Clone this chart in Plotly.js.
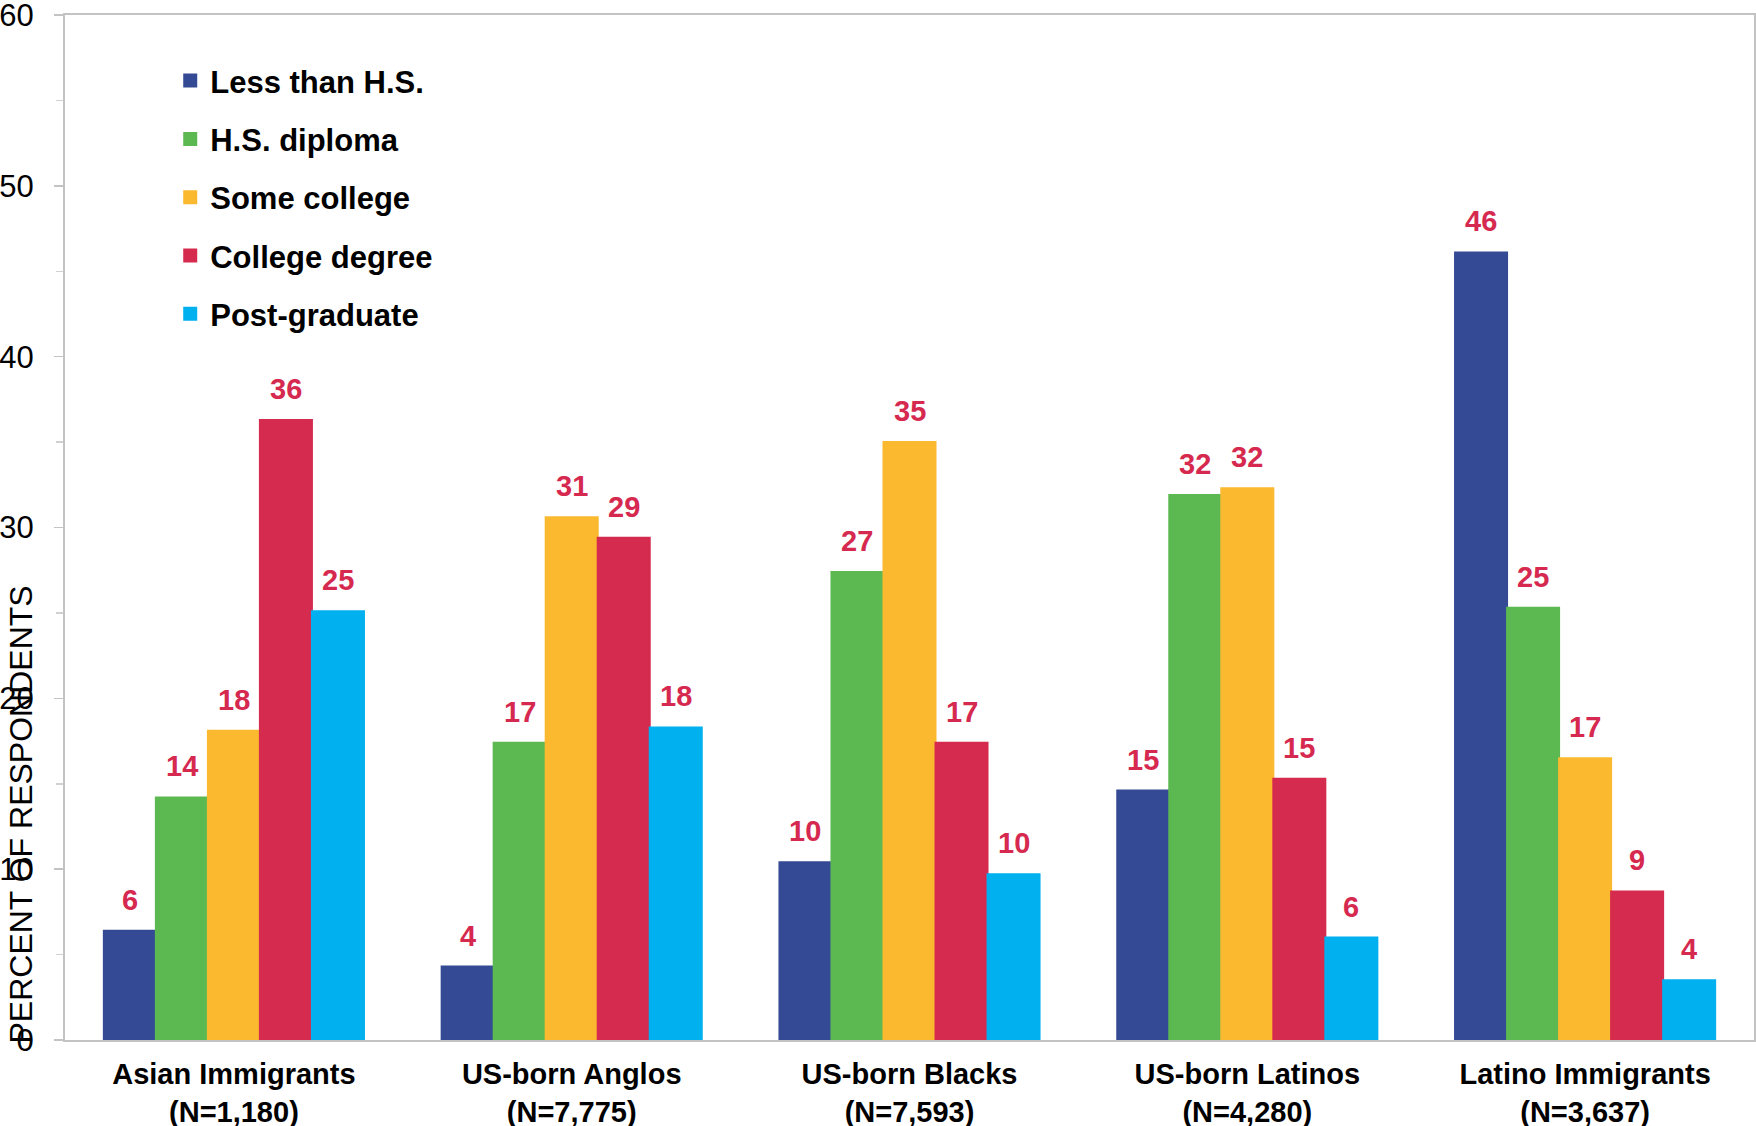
<!DOCTYPE html>
<html>
<head>
<meta charset="utf-8">
<script src="https://cdn.plot.ly/plotly-3.0.1.min.js"></script>
<style>html,body{margin:0;padding:0;background:#fff;}#chart{width:1756px;height:1126px;}</style>
</head>
<body>
<div id="chart"></div>
<script>
const categories = ['Asian Immigrants','US-born Anglos','US-born Blacks','US-born Latinos','Latino Immigrants'];
const sampleSizes = ['(N=1,180)','(N=7,775)','(N=7,593)','(N=4,280)','(N=3,637)'];
const seriesNames = ['Less than H.S.','H.S. diploma','Some college','College degree','Post-graduate'];
const lessThanHS    = [6.4, 4.3, 10.4, 14.6, 46.1];
const hsDiploma     = [14.2, 17.4, 27.4, 31.9, 25.3];
const someCollege   = [18.1, 30.6, 35.0, 32.3, 16.5];
const collegeDegree = [36.3, 29.4, 17.4, 15.3, 8.7];
const postGraduate  = [25.1, 18.3, 9.7, 6.0, 3.5];
const yTickVals = [0, 10, 20, 30, 40, 50, 60];

const seriesValues = [lessThanHS, hsDiploma, someCollege, collegeDegree, postGraduate];
const colors = ['#344A94', '#5CB951', '#FBB930', '#D52B4F', '#00B0EF'];
const labelColor = '#D6294F';
const FONT = 'Liberation Sans, Arial, Helvetica, sans-serif';
const bargap = 0.23;
const barW = (1 - bargap) / seriesValues.length;

const traces = seriesValues.map((vals, i) => ({
  type: 'bar',
  name: seriesNames[i],
  x: categories,
  y: vals,
  marker: {color: colors[i], line: {width: 2, color: colors[i]}},
  legendgroup: 'g' + i,
  hoverinfo: 'y+name'
}));

const annotations = [];
seriesValues.forEach((vals, i) => {
  vals.forEach((v, j) => {
    annotations.push({
      x: j + (i - (seriesValues.length - 1) / 2) * barW,
      y: v,
      xref: 'x', yref: 'y',
      text: String(Math.round(v)),
      showarrow: false,
      xanchor: 'center', yanchor: 'middle',
      yshift: 31,
      font: {family: FONT, size: 29, color: labelColor, weight: 'bold'}
    });
  });
});
annotations.push({
  xref: 'paper', yref: 'y',
  x: 0, y: 13.2,
  xshift: -45,
  xanchor: 'center', yanchor: 'middle',
  textangle: -90,
  text: 'PERCENT OF RESPONDENTS',
  showarrow: false,
  font: {family: FONT, size: 32, color: '#000'}
});

const layout = {
  width: 1756, height: 1126,
  margin: {l: 65, r: 2, t: 15, b: 86, pad: 0},
  paper_bgcolor: '#fff', plot_bgcolor: '#fff',
  barmode: 'group', bargap: bargap, bargroupgap: 0,
  font: {family: FONT, color: '#000'},
  showlegend: true,
  legend: {
    x: 0.0623, y: 0.962, xanchor: 'left', yanchor: 'top',
    bgcolor: 'rgba(0,0,0,0)', borderwidth: 0,
    font: {family: FONT, size: 31, color: '#000', weight: 'bold'},
    tracegroupgap: 15, traceorder: 'grouped'
  },
  xaxis: {
    type: 'category',
    tickmode: 'array',
    tickvals: categories,
    ticktext: categories.map((c, j) => c + '<br>' + sampleSizes[j]),
    tickfont: {family: FONT, size: 29, color: '#000', weight: 'bold'},
    ticks: '', showgrid: false, zeroline: false,
    showline: true, linecolor: '#C3C3C3', linewidth: 2, mirror: true,
    ticklabelstandoff: 7,
    range: [-0.5, 4.5]
  },
  yaxis: {
    range: [0, 60],
    tickmode: 'array', tickvals: yTickVals,
    tickfont: {family: FONT, size: 31, color: '#000'},
    ticks: 'outside', ticklen: 9, tickwidth: 1.5, tickcolor: '#C3C3C3',
    minor: {dtick: 5, ticks: 'outside', ticklen: 7, tickwidth: 1.5, tickcolor: '#D0D0D0', showgrid: false},
    showgrid: false, zeroline: false,
    showline: true, linecolor: '#C3C3C3', linewidth: 2, mirror: true,
    ticklabelstandoff: 14,
    ticklabeloverflow: 'allow'
  },
  annotations: annotations
};

Plotly.newPlot('chart', traces, layout, {displayModeBar: false, staticPlot: true});
</script>
</body>
</html>
